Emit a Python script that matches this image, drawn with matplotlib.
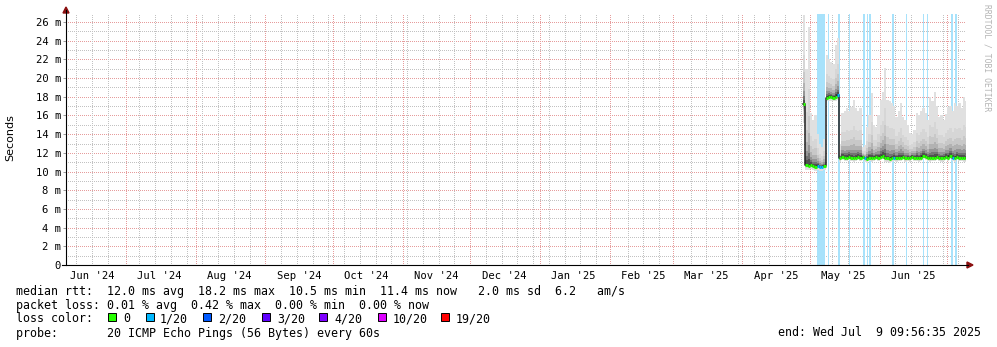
import matplotlib

matplotlib.use("Agg")

import matplotlib.pyplot as plt
import matplotlib.dates as mdates
import numpy as np
from datetime import datetime, timedelta
from matplotlib.patches import Rectangle, Polygon
from matplotlib.lines import Line2D

W, H = 997, 347
END = datetime(2025, 7, 9, 9, 56, 35)
START = END - timedelta(days=400)
DATA_START = datetime(2025, 4, 28)

# daily values from Apr 28 2025 to Jul 9 2025, in ms
median_ms = [
    17.2, 10.7, 10.6, 10.7, 10.6, 10.5, 10.6, 10.5, 10.5, 10.6,
    17.9, 18.0, 18.0, 17.9, 18.0, 18.2, 11.4,
    11.6, 11.5, 11.5, 11.6, 11.5, 11.4, 11.5, 11.6, 11.5, 11.6,
    11.4, 11.3, 11.5, 11.4, 11.5, 11.6, 11.5, 11.6, 11.7, 11.5,
    11.4, 11.3, 11.4, 11.5, 11.4, 11.5, 11.5, 11.6, 11.4, 11.5,
    11.4, 11.6, 11.5, 11.5, 11.4, 11.5, 11.7, 11.6, 11.5, 11.4,
    11.5, 11.5, 11.6, 11.5, 11.4, 11.5, 11.6, 11.5, 11.7, 11.5,
    11.4, 11.6, 11.5, 11.5, 11.4, 11.4,
]
smoke_top_ms = [
    26.8, 21.0, 25.5, 16.3, 15.5, 16.0, 14.0, 13.0, 12.6, 13.5,
    22.5, 22.0, 21.7, 21.5, 23.5, 24.3, 13.0,
    16.3, 16.5, 16.8, 16.5, 16.9, 17.7, 16.8, 16.5, 16.8, 12.6,
    12.8, 14.8, 16.0, 18.4, 15.0, 14.8, 16.0, 17.7, 18.5, 21.1,
    17.7, 17.5, 17.3, 17.0, 15.8, 16.5, 17.3, 15.8, 15.5, 15.0,
    14.1, 14.0, 14.5, 16.3, 16.0, 16.5, 16.8, 16.3, 15.5, 18.0,
    17.5, 18.5, 17.0, 15.8, 16.0, 15.5, 16.2, 16.9, 17.0, 16.5,
    17.3, 17.0, 17.3, 16.8, 18.0, 17.5,
]
smoke_min_ms = [
    15.2, 10.2, 10.2, 10.3, 10.2, 10.1, 10.2, 10.1, 10.1, 10.2,
    17.5, 17.6, 17.6, 17.5, 17.6, 17.7, 11.0,
    11.2, 11.1, 11.1, 11.2, 11.1, 11.0, 11.1, 11.2, 11.1, 11.2,
    11.0, 10.9, 11.1, 11.0, 11.1, 11.2, 11.1, 11.2, 11.3, 11.0,
    11.0, 10.9, 11.0, 11.1, 11.0, 11.1, 11.1, 11.2, 11.0, 11.1,
    11.0, 11.2, 11.1, 11.1, 11.0, 11.1, 11.3, 11.2, 11.1, 11.0,
    11.1, 11.1, 11.2, 11.1, 11.0, 11.1, 11.2, 11.1, 11.3, 11.1,
    11.0, 11.2, 11.1, 11.1, 11.0, 11.0,
]
# lost pings (of 20) per day
loss_count = [0] * 73
for d in (6, 7, 8, 15, 27, 40, 66):
    loss_count[d] = 1

# loss bars, in days after Apr 28 2025
loss_band_start = [6.13, 10.92, 15.72, 20.47, 26.82, 28.60, 29.48, 39.56,
                   45.78, 53.20, 54.97, 65.63, 67.54]
loss_band_end = [9.81, 11.37, 16.47, 20.91, 27.58, 29.04, 30.24, 40.45,
                 46.36, 53.77, 55.55, 66.65, 68.43]

loss_labels = ["0", "1/20", "2/20", "3/20", "4/20", "10/20", "19/20"]
loss_levels = [0, 1, 2, 3, 4, 10, 19]
loss_colors = ["#26ff00", "#00b8ff", "#0059ff", "#5e00ff", "#7e00ff",
               "#dd00ff", "#ff0000"]

legend_rows = [
    "median rtt:  12.0 ms avg  18.2 ms max  10.5 ms min  11.4 ms now   2.0 ms sd  6.2   am/s",
    "packet loss: 0.01 % avg  0.42 % max  0.00 % min  0.00 % now",
    "loss color:",
    "probe:       20 ICMP Echo Pings (56 Bytes) every 60s",
]
end_label = "end: Wed Jul  9 09:56:35 2025"

MONO = "DejaVu Sans Mono"
GRID = "#c2c2c2"
MGRID = "#e69c9c"
ARROW = "#8b1010"


def fx(x):
    return x / W


def fy(y):
    return 1 - y / H


fig = plt.figure(figsize=(W / 100, H / 100), dpi=100)
fig.patch.set_facecolor("white")

ax = fig.add_axes([fx(66), fy(265), (966 - 66) / W, (265 - 14) / H])
ax.set_facecolor("white")
ymax = 26.86
ax.set_xlim(START, END)
ax.set_ylim(0, ymax)
for s in ax.spines.values():
    s.set_visible(False)

dots = (0, (1, 2))
# horizontal grid
for v in range(1, 27):
    ax.axhline(v, color=MGRID if v % 2 == 0 else GRID, lw=0.72, ls=dots,
               antialiased=False, zorder=1)
# vertical grid: sundays and month starts
month_starts = []
for m in range(13):
    ms = datetime(2024 + (6 + m) // 12, (6 + m) % 12 + 1, 1)
    if START < ms < END:
        month_starts.append(ms)
d = datetime(2024, 6, 9)
while d < END:
    if all(abs((d - ms).days) > 1 for ms in month_starts):
        ax.axvline(d, color=GRID, lw=0.72, ls=dots, antialiased=False, zorder=1)
    d += timedelta(days=7)
for ms in month_starts:
    ax.axvline(ms, color=MGRID, lw=0.72, ls=dots, antialiased=False, zorder=1)

# loss bars
for s0, s1 in zip(loss_band_start, loss_band_end):
    ax.axvspan(DATA_START + timedelta(days=s0), DATA_START + timedelta(days=s1),
               color="#a8e2fb", lw=0, zorder=2)

# smoke
edges = [DATA_START + timedelta(days=i) for i in range(len(median_ms))] + [END]
med = np.array(median_ms + [median_ms[-1]])
top = np.array(smoke_top_ms + [smoke_top_ms[-1]])
low = np.array(smoke_min_ms + [smoke_min_ms[-1]])
layers = [(1.0, "#e0e0e0"), (0.55, "#d6d6d6"), (0.36, "#c8c8c8"),
          (0.24, "#b2b2b2"), (0.15, "#959595"), (0.09, "#737373"),
          (0.05, "#505050")]
for f, c in layers:
    ax.fill_between(edges, med - f * (med - low), med + f * (top - med),
                    step="post", color=c, lw=0, zorder=3)

# median line: dark step, then loss colored segments
ax.step(edges, med, where="post", color="#202020", lw=1.1, zorder=4)
seg_colors = [loss_colors[loss_levels.index(n)] for n in loss_count]
ax.hlines(median_ms, mdates.date2num(edges[:-1]), mdates.date2num(edges[1:]),
          colors=seg_colors, lw=2.2, zorder=5)

# ticks
yt = list(range(0, 27, 2))
ax.set_yticks(yt)
ax.set_yticklabels(["0" if v == 0 else f"{v} m" for v in yt], family=MONO,
                   fontsize=7.6)
ax.tick_params(axis="y", length=2, width=0.7, color="#999999", pad=1.5)
label_days = [datetime(2024 + (5 + m) // 12, (5 + m) % 12 + 1, 16)
              for m in range(13)]
ax.set_xticks(label_days)
ax.set_xticklabels([d.strftime("%b '%y") for d in label_days], family=MONO,
                   fontsize=7.6)
ax.tick_params(axis="x", length=0, pad=4)

# axes with arrows
fig.add_artist(Line2D([fx(66), fx(66)], [fy(265), fy(10)], color="black",
                      lw=0.8, transform=fig.transFigure))
fig.add_artist(Line2D([fx(62), fx(968)], [fy(265), fy(265)], color="black",
                      lw=0.8, transform=fig.transFigure))
fig.add_artist(Polygon([(fx(63), fy(13)), (fx(69), fy(13)), (fx(66), fy(7))],
                       closed=True, color=ARROW, transform=fig.transFigure))
fig.add_artist(Polygon([(fx(967), fy(262)), (fx(967), fy(268)), (fx(973), fy(265))],
                       closed=True, color=ARROW, transform=fig.transFigure))

fig.text(fx(10), fy(138), "Seconds", rotation=90, ha="center", va="center",
         fontsize=8, family="DejaVu Sans")
fig.text(fx(987), fy(4), "RRDTOOL / TOBI OETIKER", rotation=270, ha="center",
         va="top", fontsize=5.8, family=MONO, color="#b4b4b4")

# legend
row_y = [291, 305, 319, 333]
for txt, y in zip(legend_rows, row_y):
    fig.text(fx(16), fy(y), txt, ha="left", va="center", fontsize=8.4, family=MONO)
fig.text(fx(981), fy(333), end_label, ha="right", va="center", fontsize=8.4,
         family=MONO)

box_x = [108, 146, 203, 262, 319, 378, 441]
text_x = [123, 160, 218, 277, 334, 393, 456]
for bx, tx, lab, c in zip(box_x, text_x, loss_labels, loss_colors):
    fig.add_artist(Rectangle((fx(bx), fy(321)), 8 / W, 8 / H, facecolor=c,
                             edgecolor="black", lw=0.7, transform=fig.transFigure))
    fig.text(fx(tx), fy(319), lab, ha="left", va="center", fontsize=8.4, family=MONO)

fig.savefig("out.png", dpi=100, facecolor="white")
